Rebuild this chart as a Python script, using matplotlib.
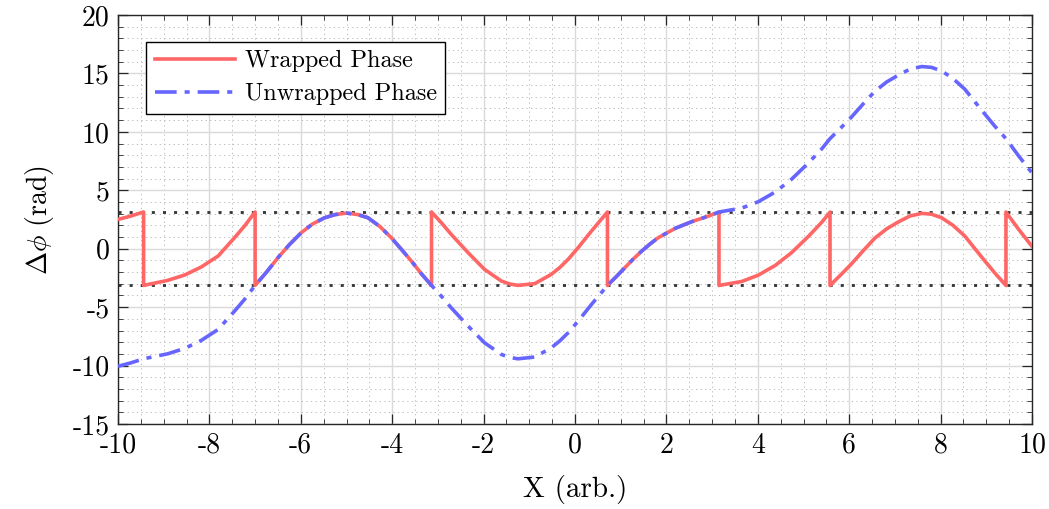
import numpy as np
import matplotlib
matplotlib.use("Agg")
import matplotlib.pyplot as plt
from matplotlib.ticker import MultipleLocator

# Unwrapped phase (x in arb. units, phase in rad)
x_vals = [-10, -9.72, -9.44, -8.91, -8.54, -8.18, -7.81, -7.45, -7.23, -7.0,
          -6.75, -6.50, -6.25, -5.99, -5.75, -5.48, -5.25, -5.0, -4.75, -4.53,
          -4.27, -4.02, -3.80, -3.58, -3.36, -3.14,
          -2.92, -2.71, -2.34, -1.98, -1.61, -1.43, -1.25, -0.88, -0.52, -0.33,
          -0.15, 0.07, 0.36, 0.53, 0.71,
          0.90, 1.09, 1.27, 1.46, 1.64, 1.82, 2.19, 2.55, 2.92, 3.15,
          3.65, 4.01, 4.38, 4.74, 5.11, 5.40, 5.58,
          5.82, 6.05, 6.30, 6.56, 6.82, 7.08, 7.33, 7.59, 7.80, 8.02, 8.27,
          8.53, 8.75, 8.97, 9.19, 9.43, 9.70, 10]
unwrapped = [-10.06, -9.77, -9.42, -8.99, -8.53, -7.85, -6.91, -5.34, -4.33, -3.14,
             -2.00, -0.77, 0.35, 1.37, 2.10, 2.65, 2.92, 3.05, 2.92, 2.65,
             1.90, 0.94, -0.05, -1.06, -2.15, -3.14,
             -4.08, -5.05, -6.62, -8.05, -9.05, -9.30, -9.42, -9.27, -8.48, -7.88,
             -7.19, -6.19, -4.77, -3.98, -3.14,
             -2.40, -1.63, -0.90, -0.20, 0.40, 0.94, 1.74, 2.31, 2.79, 3.14,
             3.48, 4.02, 4.85, 5.95, 7.35, 8.55, 9.42,
             10.35, 11.27, 12.37, 13.47, 14.27, 14.87, 15.37, 15.59, 15.52, 15.22, 14.57,
             13.65, 12.57, 11.51, 10.47, 9.42, 7.98, 6.48]

x_ticks = [-10, -8, -6, -4, -2, 0, 2, 4, 6, 8, 10]
y_ticks = [-15, -10, -5, 0, 5, 10, 15, 20]

plt.rcParams['font.family'] = 'serif'
plt.rcParams['font.serif'] = ['cmr10']
plt.rcParams['mathtext.fontset'] = 'cm'
plt.rcParams['axes.unicode_minus'] = False
plt.rcParams['axes.formatter.use_mathtext'] = True

# wrap into [-pi, pi] and put the jumps in as vertical steps
x_arr = np.array(x_vals)
u_arr = np.array(unwrapped)
w_arr = u_arr - 2 * np.pi * np.round(u_arr / (2 * np.pi))
wx, wy = [x_arr[0]], [w_arr[0]]
for i in range(1, len(x_arr)):
    d = w_arr[i] - w_arr[i - 1]
    if abs(d) > np.pi:
        s = np.sign(d)
        if abs(abs(w_arr[i]) - np.pi) < abs(abs(w_arr[i - 1]) - np.pi):
            wx.append(x_arr[i]); wy.append(w_arr[i] - s * 2 * np.pi)
        else:
            wx.append(x_arr[i - 1]); wy.append(w_arr[i - 1] + s * 2 * np.pi)
    wx.append(x_arr[i]); wy.append(w_arr[i])

fig = plt.figure(figsize=(10.49, 5.09), dpi=100)
ax = fig.add_axes([0.1125, 0.167, 0.8713, 0.8035])

ax.axhline(np.pi, color='#333333', lw=2.0, dashes=(1.1, 2.9), zorder=2)
ax.axhline(-np.pi, color='#333333', lw=2.0, dashes=(1.1, 2.9), zorder=2)
ax.plot(wx, wy, color='#ff6666', lw=2.6, label='Wrapped Phase', zorder=3)
ax.plot(x_vals, unwrapped, color='#6666ff', lw=2.6, dashes=(6, 2.2, 1.4, 2.2),
        label='Unwrapped Phase', zorder=4)

ax.set_xlim(-10, 10)
ax.set_ylim(-15, 20)
ax.set_xticks(x_ticks)
ax.set_xticklabels([str(t) for t in x_ticks])
ax.set_yticks(y_ticks)
ax.set_yticklabels([str(t) for t in y_ticks])
ax.xaxis.set_minor_locator(MultipleLocator(0.5))
ax.yaxis.set_minor_locator(MultipleLocator(1))
ax.tick_params(which='both', direction='in', top=True, right=True,
               color='#262626', labelsize=20, pad=6)
ax.tick_params(which='major', length=7, width=0.9)
ax.tick_params(which='minor', length=3.5, width=0.6)
ax.grid(which='major', color='#dadada', lw=1.0)
ax.grid(which='minor', color='#b0b0b0', lw=0.6, dashes=(1.5, 4))
ax.set_axisbelow(True)
for side in ['top', 'left', 'bottom', 'right']:
    ax.spines[side].set_color('#262626')
    ax.spines[side].set_linewidth(1.0)

ax.set_xlabel('X (arb.)', fontsize=21, labelpad=12)
ax.set_ylabel(r'$\Delta\phi$ (rad)', fontsize=20, labelpad=12)

leg = ax.legend(loc='upper left', bbox_to_anchor=(0.031, 0.935), fontsize=17.5,
                handlelength=3.3, handletextpad=0.4, fancybox=False,
                framealpha=1, edgecolor='black', borderpad=0.35,
                labelspacing=0.45, borderaxespad=0)
leg.get_frame().set_linewidth(1.0)

fig.savefig('out.png', dpi=100)
